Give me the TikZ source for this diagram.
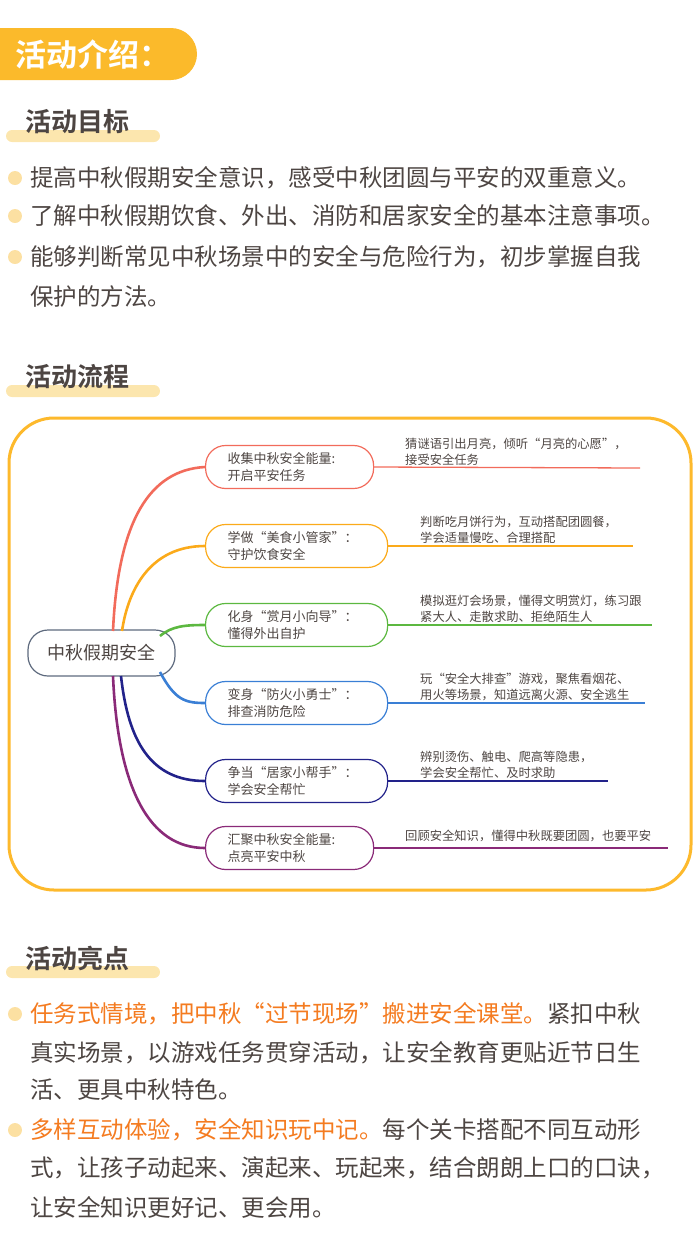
\documentclass[tikz,border=0pt]{standalone}
\usepackage{fontspec}
\setmainfont{Noto Sans CJK SC}
\newfontfamily\cjkb{Noto Sans CJK SC Bold}
\definecolor{banner}{HTML}{FBBA2B}
\definecolor{hl}{HTML}{FCE6AE}
\definecolor{dot}{HTML}{FCE0A2}
\definecolor{txt}{HTML}{4D4542}
\definecolor{ora}{HTML}{F47B20}
\definecolor{frame}{HTML}{FDB92C}
\definecolor{cA}{HTML}{F26B5B}
\definecolor{cB}{HTML}{FBAA1A}
\definecolor{cC}{HTML}{5CB840}
\definecolor{cD}{HTML}{3A7FD5}
\definecolor{cE}{HTML}{22228A}
\definecolor{cF}{HTML}{8A2A78}
\definecolor{cG}{HTML}{5E6A7E}
\begin{document}
\begin{tikzpicture}[x=1pt,y=-1pt,
 sec/.style={anchor=west,font=\cjkb\fontsize{26}{30}\selectfont,text=txt,inner sep=0},
 body/.style={anchor=west,font=\fontsize{23.5}{28}\selectfont,text=txt,inner sep=0},
 bullet/.style={circle,fill=dot,minimum size=14pt,inner sep=0},
 br/.style={draw=#1,line width=1.2pt,rounded corners=20pt,minimum height=43pt,anchor=west,align=left,font=\fontsize{13}{17}\selectfont,text=txt,inner xsep=22pt,inner ysep=0,text width=138pt},
 brs/.style={text width=124pt},
 det/.style={anchor=west,align=left,font=\fontsize{12.3}{16}\selectfont,text=txt,inner sep=0},
 con/.style={line width=2.6pt,#1}]
\useasboundingbox (0,0) rectangle (700,1251);
% banner
\fill[banner,rounded corners=26pt] (-40,28) rectangle (197,80);
\node[anchor=west,inner sep=0,text=white,font=\cjkb\fontsize{31}{34}\selectfont] (ban) at (15,55) {活动介绍：};
% section 1
\fill[hl,rounded corners=6pt] (6,130) rectangle (160,142);
\node[sec] (s1) at (25,122) {活动目标};
\node[bullet] (b1) at (15,178) {};
\node[body] (t1) at (30,178) {提高中秋假期安全意识，感受中秋团圆与平安的双重意义。};
\node[bullet] (b2) at (15,216) {};
\node[body] (t2) at (30,216) {了解中秋假期饮食、外出、消防和居家安全的基本注意事项。};
\node[bullet] (b3) at (15,257) {};
\node[body] (t3) at (30,257) {能够判断常见中秋场景中的安全与危险行为，初步掌握自我};
\node[body] (t3b) at (30,297) {保护的方法。};
% section 2
\fill[hl,rounded corners=6pt] (6,385) rectangle (160,397);
\node[sec] (s2) at (25,377) {活动流程};
\draw[frame,line width=3pt,rounded corners=45pt] (9,418) rectangle (691,890);
\node[draw=cG,line width=1.2pt,rounded corners=20pt,minimum width=147pt,minimum height=46pt,font=\fontsize{18}{20}\selectfont,text=txt] (c) at (101.5,653) {中秋假期安全};
\node[br=cA,brs] (n1) at (205,467) {收集中秋安全能量:\\开启平安任务};
\node[br=cB] (n2) at (205,546) {学做“美食小管家”：\\守护饮食安全};
\node[br=cC] (n3) at (205,625) {化身“赏月小向导”：\\懂得外出自护};
\node[br=cD] (n4) at (205,703) {变身“防火小勇士”：\\排查消防危险};
\node[br=cE] (n5) at (205,781) {争当“居家小帮手”：\\学会安全帮忙};
\node[br=cF,brs] (n6) at (205,848) {汇聚中秋安全能量:\\点亮平安中秋};
\coordinate (e1) at (640,468); \coordinate (e2) at (633,546); \coordinate (e3) at (652,625);
\coordinate (e4) at (645,703); \coordinate (e5) at (608,781); \coordinate (e6) at (668,848);
\draw[cA,line width=1.3pt] (n1.east) -- (e1);
\draw[cB,line width=1.3pt] (n2.east) -- (e2);
\draw[cC,line width=1.3pt] (n3.east) -- (e3);
\draw[cD,line width=1.3pt] (n4.east) -- (e4);
\draw[cE,line width=1.3pt] (n5.east) -- (e5);
\draw[cF,line width=1.3pt] (n6.east) -- (e6);
\node[det] (d1) at (405,452) {猜谜语引出月亮，倾听“月亮的心愿”，\\接受安全任务};
\node[det] (d2) at (420,530) {判断吃月饼行为，互动搭配团圆餐，\\学会适量慢吃、合理搭配};
\node[det] (d3) at (420,609) {模拟逛灯会场景，懂得文明赏灯，练习跟\\紧大人、走散求助、拒绝陌生人};
\node[det] (d4) at (420,687) {玩“安全大排查”游戏，聚焦看烟花、\\用火等场景，知道远离火源、安全逃生};
\node[det] (d5) at (420,765) {辨别烫伤、触电、爬高等隐患，\\学会安全帮忙、及时求助};
\node[det] (d6) at (405,836) {回顾安全知识，懂得中秋既要团圆，也要平安};
\coordinate (u1) at (113,631); \coordinate (u2) at (122,631); \coordinate (u3) at (160,636);
\coordinate (l4) at (160,672); \coordinate (l5) at (121,676); \coordinate (l6) at (113,676);
\draw[con=cA] (u1) .. controls (118,520) and (150,470) .. (n1.west);
\draw[con=cB] (u2) .. controls (128,590) and (150,546) .. (n2.west);
\draw[con=cC] (u3) .. controls (172,626) and (185,625) .. (n3.west);
\draw[con=cD] (l4) .. controls (175,700) and (185,703) .. (n4.west);
\draw[con=cE] (l5) .. controls (128,740) and (150,781) .. (n5.west);
\draw[con=cF] (l6) .. controls (118,790) and (150,848) .. (n6.west);
% section 3
\fill[hl,rounded corners=6pt] (6,966) rectangle (160,978);
\node[sec] (s3) at (25,958) {活动亮点};
\node[bullet] (b4) at (15,1014) {};
\node[body] (h1) at (30,1014) {\textcolor{ora}{任务式情境，把中秋“过节现场”搬进安全课堂。}紧扣中秋};
\node[body] (h1b) at (30,1053) {真实场景，以游戏任务贯穿活动，让安全教育更贴近节日生};
\node[body] (h1c) at (30,1090) {活、更具中秋特色。};
\node[bullet] (b5) at (15,1130) {};
\node[body] (h2) at (30,1130) {\textcolor{ora}{多样互动体验，安全知识玩中记。}每个关卡搭配不同互动形};
\node[body] (h2b) at (30,1168) {式，让孩子动起来、演起来、玩起来，结合朗朗上口的口诀，};
\node[body] (h2c) at (30,1207) {让安全知识更好记、更会用。};
\end{tikzpicture}
\end{document}
